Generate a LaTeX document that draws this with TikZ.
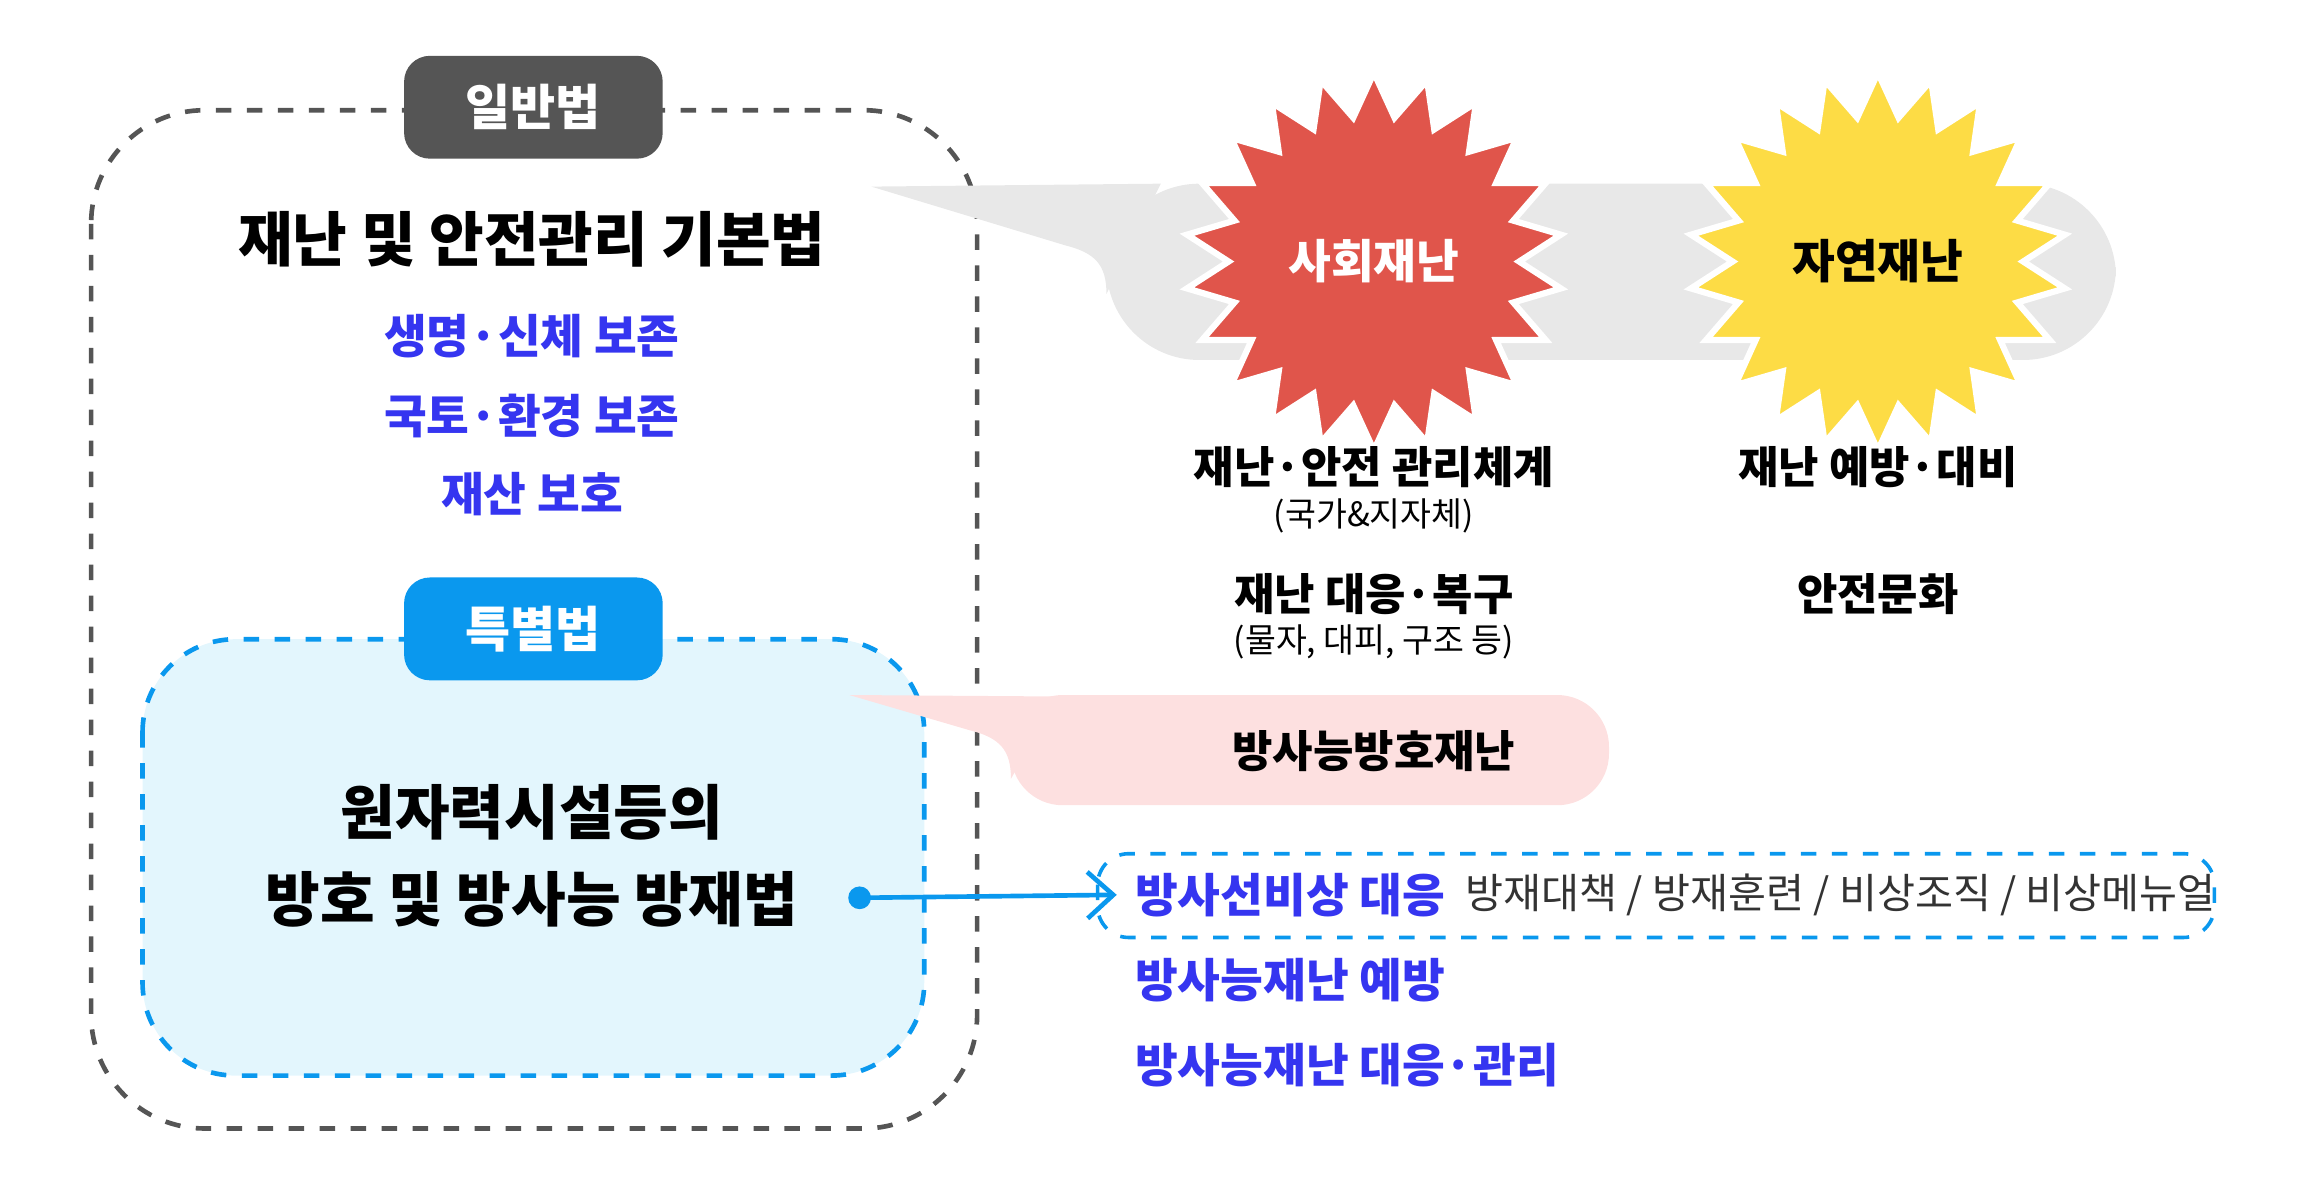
\documentclass[tikz,border=0pt]{standalone}
\usepackage{fontspec}
\setmainfont{Noto Sans CJK KR}
\usetikzlibrary{shapes.geometric,arrows.meta}
\definecolor{lawgray}{HTML}{555555}
\definecolor{lawblue}{HTML}{0A98EE}
\definecolor{txtblue}{HTML}{3535F0}
\definecolor{boxcyan}{HTML}{E3F6FD}
\definecolor{callgray}{HTML}{E8E8E8}
\definecolor{callpink}{HTML}{FDE0E0}
\definecolor{burstred}{HTML}{E0554B}
\definecolor{burstyel}{HTML}{FDDC45}
\tikzset{
  lawtag/.style={rounded corners=5pt, minimum width=1.76cm, minimum height=0.7cm, text=white, font=\fontsize{9.5}{11}\selectfont\bfseries},
  title/.style={font=\fontsize{11.5}{13}\selectfont\bfseries},
  goal/.style={text=txtblue, font=\fontsize{9}{11}\selectfont\bfseries},
  item/.style={font=\fontsize{8.5}{10}\selectfont\bfseries},
  note/.style={font=\fontsize{6.5}{8}\selectfont},
  burst/.style={star, star points=22, star point ratio=1.3, minimum size=2.05cm, draw=white, line width=1.2pt, font=\fontsize{9}{11}\selectfont\bfseries}
}
\begin{document}
\begin{tikzpicture}[x=1cm,y=-1cm]
\useasboundingbox (0,0) rectangle (15.68,8.06);
% general law frame
\draw[lawgray, dashed, line width=0.9pt, rounded corners=22pt] (0.62,0.75) rectangle (6.65,7.68);
\node[lawtag, fill=lawgray] (general) at (3.63,0.73) {일반법};
\node[title] (basic) at (3.62,1.63) {재난 및 안전관리 기본법};
\node[goal] (life) at (3.62,2.29) {생명·신체 보존};
\node[goal] (land) at (3.62,2.83) {국토·환경 보존};
\node[goal] (asset) at (3.62,3.36) {재산 보호};
% special law frame
\draw[lawblue, dashed, line width=0.9pt, fill=boxcyan, rounded corners=18pt] (0.97,4.35) rectangle (6.29,7.32);
\node[lawtag, fill=lawblue] (special) at (3.63,4.28) {특별법};
\node[title] (nuc1) at (3.62,5.53) {원자력시설등의};
\node[title] (nuc2) at (3.62,6.12) {방호 및 방사능 방재법};
% gray callout
\fill[callgray] (5.93,1.27) -- (7.9,1.25) -- (7.53,2.0) .. controls (7.53,1.8) and (7.45,1.72) .. (7.25,1.67) -- cycle;
\fill[callgray, rounded corners=18pt] (7.53,1.25) rectangle (14.4,2.45);
\node[burst, fill=burstred, text=white] (social) at (9.35,1.78) {사회재난};
\node[burst, fill=burstyel] (natural) at (12.78,1.78) {자연재난};
\node[item] (sys) at (9.35,3.18) {재난·안전 관리체계};
\node[note] (sysn) at (9.35,3.51) {(국가\&지자체)};
\node[item] (resp) at (9.35,4.04) {재난 대응·복구};
\node[note] (respn) at (9.35,4.37) {(물자, 대피, 구조 등)};
\node[item] (prev) at (12.78,3.18) {재난 예방·대비};
\node[item] (cult) at (12.78,4.04) {안전문화};
% pink callout
\fill[callpink] (5.78,4.73) -- (7.2,4.74) -- (6.88,5.3) .. controls (6.88,5.1) and (6.8,5.02) .. (6.6,4.97) -- cycle;
\fill[callpink, rounded corners=10pt] (6.88,4.73) rectangle (10.95,5.48);
\node[item] (rad) at (9.35,5.11) {방사능방호재난};
% radiation emergency
\draw[lawblue, dashed, line width=0.7pt, rounded corners=6pt] (7.47,5.81) rectangle (15.07,6.38);
\node[goal, anchor=west] (emer) at (7.6,6.09) {방사선비상 대응};
\node[anchor=west, text=black!80, font=\fontsize{8}{10}\selectfont] (plans) at (9.85,6.09) {방재대책 / 방재훈련 / 비상조직 / 비상메뉴얼};
\node[goal, anchor=west] (radprev) at (7.6,6.67) {방사능재난 예방};
\node[goal, anchor=west] (radman) at (7.6,7.25) {방사능재난 대응·관리};
\coordinate (dot) at (5.85,6.11);
\fill[lawblue] (dot) circle (2.2pt);
\draw[lawblue, line width=0.9pt, -{Straight Barb[length=5pt,width=9pt]}] (dot) -- (emer.west);
\end{tikzpicture}
\end{document}
